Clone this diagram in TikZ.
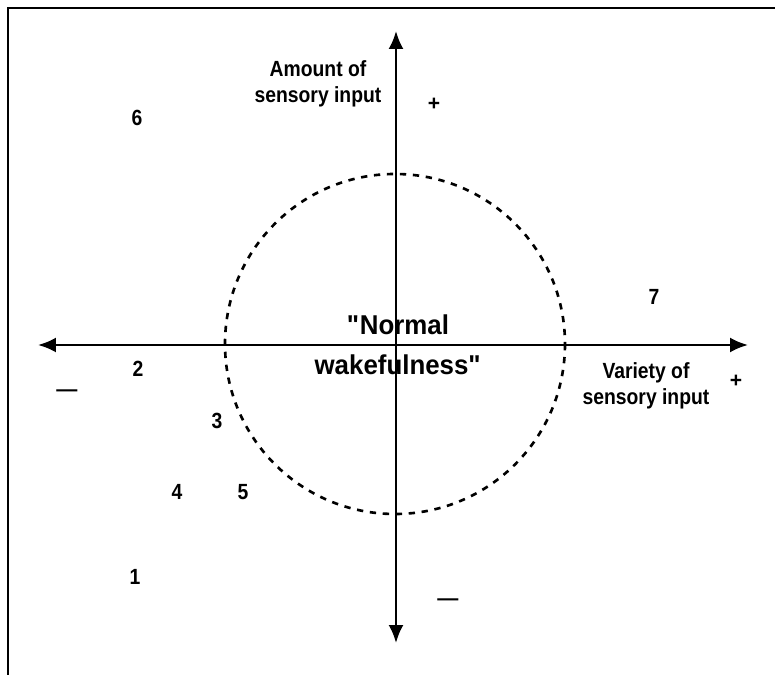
\documentclass[tikz,border=0pt]{standalone}
\usepackage{fontspec}
\setmainfont{Liberation Sans}
\newfontfamily\estreita[FakeStretch=0.88]{Liberation Sans}
\newfontfamily\centrofonte[FakeStretch=0.95]{Liberation Sans}
\usetikzlibrary{arrows.meta,positioning}
\tikzset{
    eixo/.style={{Latex[length=3.6mm,width=3mm]}-{Latex[length=3.6mm,width=3mm]}, line width=1.4pt},
    regiao/.style={dash pattern=on 3.6pt off 3.8pt, line width=1.5pt},
    moldura/.style={line width=1.4pt},
    rotulo/.style={align=center, inner sep=0pt, font=\estreita\fontsize{12.5}{15}\selectfont\bfseries},
    centro/.style={align=center, inner sep=0pt, font=\centrofonte\fontsize{15.5}{23}\selectfont\bfseries},
    numero/.style={inner sep=0pt, font=\estreita\fontsize{12.5}{14}\selectfont\bfseries},
    sinal/.style={inner sep=0pt, font=\fontsize{12}{14}\selectfont\bfseries}
}

\begin{document}
\begin{tikzpicture}[x=0.02cm, y=-0.02cm]
    \useasboundingbox (0,0) rectangle (775,675);

    % moldura (so topo e lado esquerdo)
    \coordinate (cantoA) at (775,8);
    \coordinate (cantoB) at (8,8);
    \coordinate (cantoC) at (8,675);
    \draw[moldura] (cantoA) -- (cantoB) -- (cantoC);

    % eixos
    \coordinate (esq) at (38,345);
    \coordinate (dir) at (748,345);
    \coordinate (cima) at (396,31);
    \coordinate (baixo) at (396,643);
    \draw[eixo] (esq) -- (dir);
    \draw[eixo] (baixo) -- (cima);

    % regiao normal
    \coordinate (meio) at (395,344);
    \draw[regiao] (meio) circle (170);
    \node[centro] (normal) at (398,345) {\textquotedbl Normal\\wakefulness\textquotedbl};

    % rotulos dos eixos
    \node[rotulo] (quantidade) at (318,84) {Amount of\\sensory input};
    \node[rotulo] (variedade) at (646,386) {Variety of\\sensory input};
    \node[sinal] (maisY) at (434,104) {+};
    \node[sinal] (menosY) at (448,602) {—};
    \node[sinal] (maisX) at (736,381) {+};
    \node[sinal] (menosX) at (67,393) {—};

    % condicoes
    \node[numero] (n1) at (135,577) {1};
    \node[numero] (n2) at (138,369) {2};
    \node[numero] (n3) at (217,421) {3};
    \node[numero] (n4) at (177,492) {4};
    \node[numero] (n5) at (243,492) {5};
    \node[numero] (n6) at (137,118) {6};
    \node[numero] (n7) at (654,297) {7};
\end{tikzpicture}
\end{document}
